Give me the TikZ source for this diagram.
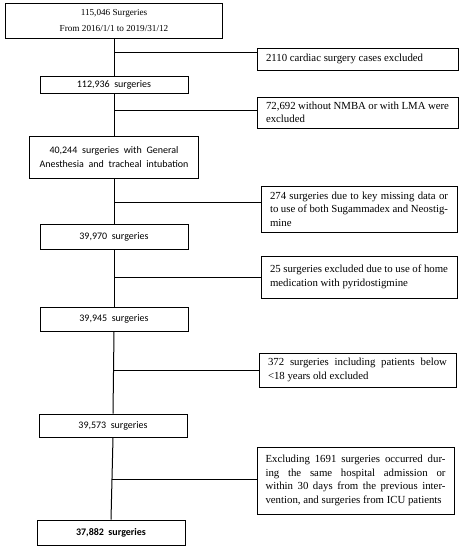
\documentclass[tikz,border=0pt]{standalone}
\usepackage{fontspec}
\setmainfont{Liberation Serif}
\newfontfamily\carl{Carlito}
\newcommand{\myjl}[2]{\makebox[#1pt][s]{#2}}
\newcommand{\mylf}[2]{\makebox[#1pt][l]{#2}}
\begin{document}
\begin{tikzpicture}[x=1pt,y=-1pt,
  box/.style={draw,line width=1pt,inner sep=0pt,minimum width=148pt,align=center,font=\carl\fontsize{10}{12}\selectfont},
  side/.style={draw,line width=1pt,inner sep=0pt,align=left,font=\fontsize{10.8}{13.6}\selectfont},
  conn/.style={line width=1pt}]
\useasboundingbox (0,0) rectangle (464,550);
\fill[white] (0,0) rectangle (464,550);
% main column
\node[box,minimum width=217pt,minimum height=35pt,font=\fontsize{9.2}{16}\selectfont] (b1) at (114,20.5) {115,046 Surgeries\\From 2016/1/1 to 2019/31/12};
\node[box,minimum height=17pt] (b2) at (114,84.5) {112,936\ \ surgeries};
\node[box,minimum width=169pt,minimum height=42pt,font=\carl\fontsize{10}{14}\selectfont] (b3) at (114,157) {\myjl{129}{40,244\ surgeries with General}\\\myjl{149}{Anesthesia and tracheal intubation}};
\node[box,minimum height=25pt] (b4) at (114,236.5) {39,970\ \ surgeries};
\node[box,minimum height=24pt] (b5) at (114,319) {39,945\ \ surgeries};
\node[box,minimum height=23pt] (b6) at (113,425.5) {39,573\ \ surgeries};
\node[box,minimum height=25pt,font=\carl\bfseries\fontsize{10}{12}\selectfont] (b7) at (111,532.5) {37,882\ \ surgeries};
% side boxes
\node[side,minimum width=201pt,minimum height=22pt] (s1) at (357.5,59) {\mylf{183}{2110 cardiac surgery cases excluded}};
\node[side,minimum width=201pt,minimum height=31pt] (s2) at (357.5,112.5) {\myjl{183}{72,692 without NMBA or with LMA were}\\\mylf{183}{excluded}};
\node[side,minimum width=196pt,minimum height=46pt] (s3) at (359,209) {\myjl{178}{274 surgeries due to key missing data or}\\\myjl{178}{to use of both Sugammadex and Neostig-}\\\mylf{178}{mine}};
\node[side,minimum width=196pt,minimum height=42pt] (s4) at (359,277) {\myjl{178}{25 surgeries excluded due to use of home}\\\mylf{178}{medication with pyridostigmine}};
\node[side,minimum width=197pt,minimum height=34pt] (s5) at (357.5,370) {\myjl{179}{372 surgeries including patients below}\\\mylf{179}{<18 years old excluded}};
\node[side,minimum width=197pt,minimum height=67pt] (s6) at (355.5,480.5) {\myjl{180}{Excluding 1691 surgeries occurred dur-}\\\myjl{180}{ing the same hospital admission or}\\\myjl{180}{within 30 days from the previous inter-}\\\mylf{180}{vention, and surgeries from ICU patients}};
% trunk
\draw[conn] (b1.south) -- (b2.north);
\draw[conn] (b2.south) -- (b3.north);
\draw[conn] (b3.south) -- (b4.north);
\draw[conn] (b4.south) -- (b5.north);
\draw[conn] (b5.south) -- (b6.north);
\draw[conn] (b6.south) -- (b7.north);
% junctions
\coordinate (j1) at (114,52);
\coordinate (j2) at (114,110);
\coordinate (j3) at (114,202);
\coordinate (j4) at (114,277);
\coordinate (j5) at (113.5,370);
\coordinate (j6) at (112,479);
\draw[conn] (j1) -- (j1 -| s1.west);
\draw[conn] (j2) -- (j2 -| s2.west);
\draw[conn] (j3) -- (j3 -| s3.west);
\draw[conn] (j4) -- (j4 -| s4.west);
\draw[conn] (j5) -- (j5 -| s5.west);
\draw[conn] (j6) -- (j6 -| s6.west);
\end{tikzpicture}
\end{document}
